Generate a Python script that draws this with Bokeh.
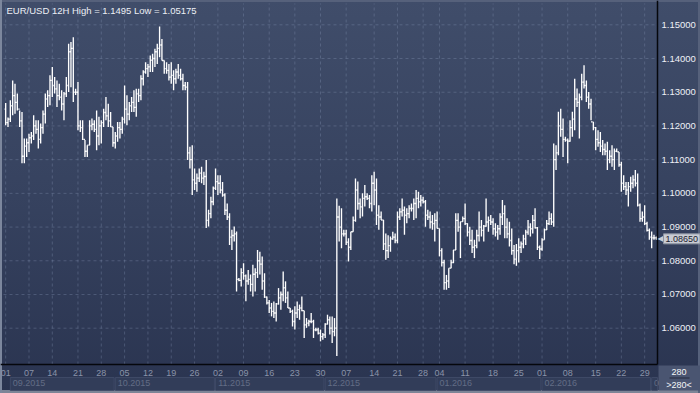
from bokeh.plotting import figure
from bokeh.models import (Range1d, FixedTicker, LinearAxis, PrintfTickFormatter,
                          Label, BoxAnnotation, ColumnDataSource)
from bokeh.embed import file_html
from bokeh.resources import INLINE

title_text = "EUR/USD 12H High = 1.1495 Low = 1.05175"
last_price = 1.0865
last_price_text = "1.08650"
bar_count_text = "280"
bar_count_sub = ">280<"

highs = [
    1.1268, 1.1225, 1.1276, 1.1335, 1.1325, 1.1296, 1.1246, 1.1241, 1.1163, 1.1163,
    1.1177, 1.1182, 1.1232, 1.1217, 1.1217, 1.1207, 1.1246, 1.1296, 1.1306, 1.1350,
    1.1375, 1.1345, 1.1335, 1.1325, 1.1306, 1.1301, 1.1345, 1.1444, 1.1449, 1.1463,
    1.1310, 1.1330, 1.1217, 1.1217, 1.1158, 1.1143, 1.1217, 1.1222, 1.1217, 1.1246,
    1.1227, 1.1217, 1.1251, 1.1286, 1.1266, 1.1241, 1.1197, 1.1182, 1.1212, 1.1212,
    1.1227, 1.1320, 1.1291, 1.1271, 1.1286, 1.1306, 1.1310, 1.1310, 1.1350, 1.1365,
    1.1389, 1.1384, 1.1409, 1.1414, 1.1429, 1.1444, 1.1495, 1.1458, 1.1394, 1.1389,
    1.1384, 1.1389, 1.1365, 1.1370, 1.1384, 1.1370, 1.1355, 1.1330, 1.1330, 1.1138,
    1.1143, 1.1074, 1.1059, 1.1074, 1.1079, 1.1064, 1.1099, 1.0951, 1.0990, 1.1020,
    1.1074, 1.1054, 1.1054, 1.1034, 1.1000, 1.0970, 1.0941, 1.0892, 1.0902, 1.0887,
    1.0749, 1.0778, 1.0793, 1.0759, 1.0773, 1.0759, 1.0788, 1.0778, 1.0832, 1.0827,
    1.0813, 1.0763, 1.0694, 1.0684, 1.0675, 1.0679, 1.0675, 1.0719, 1.0709, 1.0768,
    1.0739, 1.0709, 1.0660, 1.0655, 1.0665, 1.0679, 1.0670, 1.0694, 1.0652, 1.0630,
    1.0625, 1.0645, 1.0625, 1.0601, 1.0601, 1.0596, 1.0586, 1.0615, 1.0640, 1.0635,
    1.0635, 1.0630, 1.0985, 1.0963, 1.0956, 1.0892, 1.0892, 1.0867, 1.0886, 1.0931,
    1.1044, 1.1035, 1.0985, 1.1000, 1.1025, 1.1000, 1.0995, 1.1054, 1.1064, 1.1044,
    1.0965, 1.0946, 1.0921, 1.0881, 1.0876, 1.0872, 1.0886, 1.0881, 1.0946, 1.0956,
    1.0985, 1.0961, 1.0956, 1.0965, 1.0970, 1.0985, 1.1010, 1.1005, 1.0995, 1.0990,
    1.0980, 1.0951, 1.0946, 1.0936, 1.0941, 1.0946, 1.0896, 1.0837, 1.0803, 1.0758,
    1.0778, 1.0803, 1.0832, 1.0941, 1.0941, 1.0916, 1.0931, 1.0970, 1.0911, 1.0901,
    1.0892, 1.0862, 1.0892, 1.0946, 1.0921, 1.0906, 1.0985, 1.0931, 1.0936, 1.0926,
    1.0911, 1.0906, 1.0941, 1.0980, 1.0965, 1.0926, 1.0916, 1.0896, 1.0847, 1.0850,
    1.0867, 1.0857, 1.0877, 1.0892, 1.0921, 1.0911, 1.0936, 1.0956, 1.0900, 1.0845,
    1.0867, 1.0896, 1.0921, 1.0946, 1.0941, 1.1148, 1.1143, 1.1242, 1.1251, 1.1222,
    1.1168, 1.1163, 1.1217, 1.1242, 1.1340, 1.1311, 1.1296, 1.1355, 1.1380, 1.1335,
    1.1301, 1.1281, 1.1212, 1.1197, 1.1187, 1.1182, 1.1158, 1.1148, 1.1153, 1.1128,
    1.1143, 1.1133, 1.1133, 1.1123, 1.1094, 1.1054, 1.1034, 1.1034, 1.1049, 1.1054,
    1.1069, 1.1059, 1.0970, 1.0946, 1.0965, 1.0916, 1.0896, 1.0887, 1.0877, 1.0872,
]

lows = [
    1.1202, 1.1197, 1.1212, 1.1232, 1.1236, 1.1246, 1.1197, 1.1089, 1.1089, 1.1108,
    1.1123, 1.1148, 1.1158, 1.1177, 1.1133, 1.1148, 1.1177, 1.1207, 1.1256, 1.1261,
    1.1286, 1.1296, 1.1256, 1.1276, 1.1246, 1.1217, 1.1286, 1.1301, 1.1315, 1.1271,
    1.1292, 1.1187, 1.1182, 1.1158, 1.1108, 1.1108, 1.1143, 1.1187, 1.1182, 1.1128,
    1.1143, 1.1148, 1.1197, 1.1217, 1.1197, 1.1197, 1.1138, 1.1133, 1.1153, 1.1163,
    1.1177, 1.1207, 1.1202, 1.1217, 1.1241, 1.1241, 1.1227, 1.1271, 1.1276, 1.1320,
    1.1355, 1.1345, 1.1360, 1.1360, 1.1375, 1.1384, 1.1404, 1.1394, 1.1355, 1.1355,
    1.1335, 1.1325, 1.1306, 1.1325, 1.1340, 1.1335, 1.1306, 1.1306, 1.1099, 1.1074,
    1.0995, 1.1010, 1.1005, 1.1034, 1.1030, 1.1025, 1.0897, 1.0902, 1.0926, 1.0965,
    1.1010, 1.0995, 1.1000, 1.0990, 1.0936, 1.0921, 1.0847, 1.0832, 1.0857, 1.0709,
    1.0739, 1.0724, 1.0744, 1.0680, 1.0729, 1.0709, 1.0694, 1.0709, 1.0749, 1.0759,
    1.0714, 1.0690, 1.0670, 1.0645, 1.0635, 1.0630, 1.0620, 1.0670, 1.0655, 1.0680,
    1.0675, 1.0660, 1.0645, 1.0605, 1.0596, 1.0630, 1.0625, 1.0650, 1.0571, 1.0601,
    1.0606, 1.0615, 1.0571, 1.0591, 1.0581, 1.0561, 1.0566, 1.0571, 1.0611, 1.0581,
    1.0556, 1.0576, 1.05175, 1.0857, 1.0837, 1.0872, 1.0847, 1.0798, 1.0832, 1.0886,
    1.0916, 1.0951, 1.0926, 1.0931, 1.0961, 1.0980, 1.0956, 1.0946, 1.0965, 1.0906,
    1.0892, 1.0921, 1.0832, 1.0803, 1.0808, 1.0827, 1.0862, 1.0852, 1.0852, 1.0921,
    1.0931, 1.0877, 1.0911, 1.0926, 1.0946, 1.0921, 1.0926, 1.0956, 1.0961, 1.0970,
    1.0901, 1.0921, 1.0896, 1.0892, 1.0857, 1.0896, 1.0813, 1.0783, 1.0714, 1.0714,
    1.0719, 1.0778, 1.0793, 1.0832, 1.0886, 1.0808, 1.0916, 1.0906, 1.0872, 1.0847,
    1.0823, 1.0808, 1.0837, 1.0857, 1.0872, 1.0857, 1.0901, 1.0886, 1.0906, 1.0877,
    1.0872, 1.0862, 1.0877, 1.0906, 1.0867, 1.0867, 1.0842, 1.0818, 1.0790, 1.0785,
    1.0795, 1.0823, 1.0837, 1.0847, 1.0877, 1.0872, 1.0881, 1.0896, 1.0832, 1.0805,
    1.0830, 1.0862, 1.0891, 1.0906, 1.0906, 1.0901, 1.1069, 1.1113, 1.1168, 1.1108,
    1.1153, 1.1089, 1.1153, 1.1168, 1.1187, 1.1256, 1.1163, 1.1276, 1.1311, 1.1271,
    1.1251, 1.1217, 1.1187, 1.1128, 1.1138, 1.1123, 1.1113, 1.1113, 1.1069, 1.1089,
    1.1079, 1.1069, 1.1123, 1.1079, 1.1005, 1.1010, 1.0995, 1.0961, 1.1005, 1.1015,
    1.1020, 1.0961, 1.0916, 1.0916, 1.0906, 1.0887, 1.0862, 1.0837, 1.0862, 1.0862,
]

opens = [
    1.1250, 1.1210, 1.1220, 1.1260, 1.1290, 1.1270, 1.1250, 1.1215, 1.1110, 1.1140,
    1.1150, 1.1165, 1.1170, 1.1200, 1.1190, 1.1160, 1.1195, 1.1235, 1.1280, 1.1290,
    1.1335, 1.1320, 1.1310, 1.1290, 1.1285, 1.1265, 1.1295, 1.1320, 1.1420, 1.1430,
    1.1300, 1.1300, 1.1200, 1.1195, 1.1160, 1.1125, 1.1143, 1.1200, 1.1205, 1.1190,
    1.1170, 1.1200, 1.1210, 1.1240, 1.1230, 1.1215, 1.1197, 1.1150, 1.1170, 1.1195,
    1.1190, 1.1220, 1.1250, 1.1235, 1.1260, 1.1270, 1.1255, 1.1295, 1.1290, 1.1340,
    1.1360, 1.1370, 1.1375, 1.1395, 1.1400, 1.1420, 1.1430, 1.1440, 1.1394, 1.1370,
    1.1365, 1.1345, 1.1350, 1.1340, 1.1360, 1.1350, 1.1340, 1.1320, 1.1315, 1.1120,
    1.1100, 1.1040, 1.1030, 1.1045, 1.1060, 1.1045, 1.1050, 1.0920, 1.0940, 1.0975,
    1.1015, 1.1035, 1.1030, 1.1010, 1.0995, 1.0950, 1.0930, 1.0870, 1.0875, 1.0880,
    1.0745, 1.0742, 1.0765, 1.0755, 1.0740, 1.0745, 1.0730, 1.0760, 1.0765, 1.0800,
    1.0790, 1.0740, 1.0692, 1.0675, 1.0660, 1.0650, 1.0645, 1.0672, 1.0690, 1.0700,
    1.0720, 1.0690, 1.0660, 1.0650, 1.0620, 1.0645, 1.0655, 1.0660, 1.0652, 1.0610,
    1.0615, 1.0620, 1.0620, 1.0595, 1.0595, 1.0585, 1.0575, 1.0580, 1.0612, 1.0625,
    1.0600, 1.0590, 1.0600, 1.0930, 1.0900, 1.0880, 1.0880, 1.0855, 1.0840, 1.0886,
    1.0920, 1.1010, 1.0970, 1.0960, 1.0985, 1.0990, 1.0985, 1.0970, 1.1030, 1.1010,
    1.0935, 1.0930, 1.0921, 1.0850, 1.0830, 1.0845, 1.0865, 1.0870, 1.0860, 1.0930,
    1.0945, 1.0950, 1.0935, 1.0940, 1.0955, 1.0955, 1.0970, 1.0985, 1.0975, 1.0980,
    1.0975, 1.0935, 1.0930, 1.0915, 1.0910, 1.0920, 1.0896, 1.0830, 1.0795, 1.0735,
    1.0740, 1.0778, 1.0795, 1.0832, 1.0920, 1.0900, 1.0916, 1.0925, 1.0910, 1.0885,
    1.0860, 1.0840, 1.0845, 1.0875, 1.0900, 1.0890, 1.0903, 1.0915, 1.0920, 1.0915,
    1.0895, 1.0885, 1.0895, 1.0930, 1.0940, 1.0900, 1.0880, 1.0860, 1.0830, 1.0805,
    1.0830, 1.0840, 1.0850, 1.0865, 1.0885, 1.0900, 1.0895, 1.0920, 1.0898, 1.0840,
    1.0835, 1.0862, 1.0892, 1.0910, 1.0925, 1.0915, 1.1100, 1.1120, 1.1200, 1.1190,
    1.1160, 1.1158, 1.1155, 1.1195, 1.1220, 1.1280, 1.1270, 1.1285, 1.1330, 1.1320,
    1.1285, 1.1265, 1.1212, 1.1195, 1.1160, 1.1150, 1.1140, 1.1130, 1.1125, 1.1100,
    1.1110, 1.1100, 1.1125, 1.1123, 1.1085, 1.1030, 1.1020, 1.1010, 1.1020, 1.1030,
    1.1040, 1.1030, 1.0965, 1.0925, 1.0930, 1.0910, 1.0890, 1.0870, 1.0868, 1.0868,
]

closes = [
    1.1210, 1.1220, 1.1260, 1.1290, 1.1270, 1.1250, 1.1215, 1.1110, 1.1140, 1.1150,
    1.1165, 1.1170, 1.1200, 1.1190, 1.1160, 1.1195, 1.1235, 1.1280, 1.1290, 1.1335,
    1.1320, 1.1310, 1.1290, 1.1285, 1.1265, 1.1295, 1.1320, 1.1420, 1.1430, 1.1300,
    1.1300, 1.1200, 1.1195, 1.1160, 1.1125, 1.1143, 1.1200, 1.1205, 1.1190, 1.1170,
    1.1200, 1.1210, 1.1240, 1.1230, 1.1215, 1.1197, 1.1150, 1.1170, 1.1195, 1.1190,
    1.1220, 1.1250, 1.1235, 1.1260, 1.1270, 1.1255, 1.1295, 1.1290, 1.1340, 1.1360,
    1.1370, 1.1375, 1.1395, 1.1400, 1.1420, 1.1430, 1.1440, 1.1394, 1.1370, 1.1365,
    1.1345, 1.1350, 1.1340, 1.1360, 1.1350, 1.1340, 1.1320, 1.1315, 1.1120, 1.1100,
    1.1040, 1.1030, 1.1045, 1.1060, 1.1045, 1.1050, 1.0920, 1.0940, 1.0975, 1.1015,
    1.1035, 1.1030, 1.1010, 1.0995, 1.0950, 1.0930, 1.0870, 1.0875, 1.0880, 1.0745,
    1.0742, 1.0765, 1.0755, 1.0740, 1.0745, 1.0730, 1.0760, 1.0765, 1.0800, 1.0790,
    1.0740, 1.0692, 1.0675, 1.0660, 1.0650, 1.0645, 1.0672, 1.0690, 1.0700, 1.0720,
    1.0690, 1.0660, 1.0650, 1.0620, 1.0645, 1.0655, 1.0660, 1.0652, 1.0610, 1.0615,
    1.0620, 1.0620, 1.0595, 1.0595, 1.0585, 1.0575, 1.0580, 1.0612, 1.0625, 1.0600,
    1.0590, 1.0600, 1.0930, 1.0900, 1.0880, 1.0880, 1.0855, 1.0840, 1.0886, 1.0920,
    1.1010, 1.0970, 1.0960, 1.0985, 1.0990, 1.0985, 1.0970, 1.1030, 1.1010, 1.0935,
    1.0930, 1.0921, 1.0850, 1.0830, 1.0845, 1.0865, 1.0870, 1.0860, 1.0930, 1.0945,
    1.0950, 1.0935, 1.0940, 1.0955, 1.0955, 1.0970, 1.0985, 1.0975, 1.0980, 1.0975,
    1.0935, 1.0930, 1.0915, 1.0910, 1.0920, 1.0896, 1.0830, 1.0795, 1.0735, 1.0740,
    1.0778, 1.0795, 1.0832, 1.0920, 1.0900, 1.0916, 1.0925, 1.0910, 1.0885, 1.0860,
    1.0840, 1.0845, 1.0875, 1.0900, 1.0890, 1.0903, 1.0915, 1.0920, 1.0915, 1.0895,
    1.0885, 1.0895, 1.0930, 1.0940, 1.0900, 1.0880, 1.0860, 1.0830, 1.0805, 1.0830,
    1.0840, 1.0850, 1.0865, 1.0885, 1.0900, 1.0895, 1.0920, 1.0898, 1.0840, 1.0835,
    1.0862, 1.0892, 1.0910, 1.0925, 1.0915, 1.1100, 1.1120, 1.1200, 1.1190, 1.1160,
    1.1158, 1.1155, 1.1195, 1.1220, 1.1280, 1.1270, 1.1285, 1.1330, 1.1320, 1.1285,
    1.1265, 1.1212, 1.1195, 1.1160, 1.1150, 1.1140, 1.1130, 1.1125, 1.1100, 1.1110,
    1.1100, 1.1125, 1.1123, 1.1085, 1.1030, 1.1020, 1.1010, 1.1020, 1.1030, 1.1040,
    1.1030, 1.0965, 1.0925, 1.0930, 1.0910, 1.0890, 1.0870, 1.0868, 1.0868, 1.0865,
]

# x-axis: bar index of each weekly label, and the label texts
day_tick_pos = [0, 10, 20, 31, 41, 51, 61, 71, 81, 91, 102, 113, 124, 135,
                146, 158, 168, 179, 186, 197, 209, 220, 230, 241, 253, 264, 274]
day_tick_labels = ["01", "07", "14", "21", "28", "05", "12", "19", "26", "02",
                   "09", "16", "23", "30", "07", "14", "21", "28", "04", "11",
                   "18", "25", "01", "08", "15", "22", "29"]
month_starts = [2, 47, 90, 137, 185, 230, 277]
month_labels = ["09.2015", "10.2015", "11.2015", "12.2015", "01.2016", "02.2016", "03.2016"]
price_ticks = [1.06, 1.07, 1.08, 1.09, 1.10, 1.11, 1.12, 1.13, 1.14, 1.15]

# ---------------------------------------------------------------- layout
W, H = 700, 393
PX_L, PX_R, PX_T, PX_B = 3, 657, 3, 364          # chart area inside the canvas (px)
X0, X1 = -0.93, 279.5                              # visible bar span of chart area
Y0, Y1 = 1.04923, 1.15632                          # visible price span of chart area
sx = (PX_R - PX_L) / (X1 - X0)
sy = (PX_B - PX_T) / (Y1 - Y0)
XL, XR = X0 - PX_L / sx, X1 + (W - PX_R) / sx
YT, YB = Y1 + PX_T / sy, Y0 - (H - PX_B) / sy
FONT = "Liberation Sans"

p = figure(width=W, height=H, x_range=Range1d(XL, XR), y_range=Range1d(YB, YT),
           y_axis_location="right", output_backend="svg", toolbar_location=None,
           min_border=0)
p.min_border_left = p.min_border_right = p.min_border_top = p.min_border_bottom = 0
p.background_fill_alpha = 0
p.border_fill_alpha = 0
p.outline_line_color = None
p.grid.visible = False
p.styles = {"background": "linear-gradient(180deg, #404d6a 0%, #36425f 50%, #2a3450 100%)",
            "box-shadow": "inset 2px 0 0 0 #7c879d, inset 0 2px 0 0 #56617b, "
                          "inset -2px 0 0 0 #56617b, inset 0 -3px 0 0 #7d8597"}

# dashed grid lines at the axis ticks (limited to the chart area)
GRID = dict(line_color="#8b9abb", line_alpha=0.32, line_dash="3 3", line_width=1)
p.segment(x0=[X0] * len(price_ticks), x1=[X1] * len(price_ticks),
          y0=price_ticks, y1=price_ticks, **GRID)
p.segment(x0=day_tick_pos, x1=day_tick_pos,
          y0=[Y0] * len(day_tick_pos), y1=[Y1] * len(day_tick_pos), **GRID)

# month boxes in bottom row
for k, m in enumerate(month_starts):
    right = month_starts[k + 1] - 0.5 if k + 1 < len(month_starts) else X1
    p.add_layout(BoxAnnotation(left=m, right=right, top=Y0 - 13 / sy, bottom=Y0 - 26 / sy,
                               fill_color="#3a4561", fill_alpha=0.5,
                               line_color="#404b68", line_alpha=0.9, line_width=1))

# corner box with bar count
p.add_layout(BoxAnnotation(left=X1 + 1 / sx, right=XR, top=Y0 - 1 / sy, bottom=YB + 3 / sy,
                           fill_color="#4a5571", fill_alpha=1, line_color=None))
p.add_layout(BoxAnnotation(left=X1 + 12 / sx, right=X1 + 32 / sx, top=Y0 - 13 / sy,
                           bottom=Y0 - 14 / sy, fill_color="#242b3e", fill_alpha=1,
                           line_color=None))

# right price axis, fixed at the chart edge
ya = p.yaxis[0]
ya.fixed_location = X1
ya.bounds = (Y0, YT)
ya.ticker = FixedTicker(ticks=price_ticks)
ya.formatter = PrintfTickFormatter(format="%.5f")
ya.major_tick_line_color = None
ya.minor_tick_line_color = None
ya.major_tick_out = ya.minor_tick_out = ya.major_tick_in = ya.minor_tick_in = 0
ya.axis_line_color = "#05070c"
ya.axis_line_width = 1.5
ya.major_label_standoff = 4
ya.major_label_text_font = FONT
ya.major_label_text_font_size = "9.5px"
ya.major_label_text_color = "#eef0f6"

# bottom day axis, fixed at the chart bottom
xa = p.xaxis[0]
xa.fixed_location = Y0
xa.bounds = (XL, X1)
xa.ticker = FixedTicker(ticks=day_tick_pos)
xa.major_label_overrides = dict(zip(day_tick_pos, day_tick_labels))
xa.major_tick_line_color = None
xa.minor_tick_line_color = None
xa.major_tick_out = xa.minor_tick_out = xa.major_tick_in = xa.minor_tick_in = 0
xa.axis_line_color = "#05070c"
xa.axis_line_width = 1.5
xa.major_label_standoff = 5
xa.major_label_text_font = FONT
xa.major_label_text_font_size = "9px"
xa.major_label_text_color = "#8a93a8"

# month axis below it
month_label_pos = [m + 8 for m in month_starts]
ma = LinearAxis(ticker=FixedTicker(ticks=month_label_pos),
                major_label_overrides=dict(zip(month_label_pos, month_labels)),
                fixed_location=Y0)
ma.axis_line_color = None
ma.major_tick_line_color = None
ma.minor_tick_line_color = None
ma.major_tick_out = ma.minor_tick_out = ma.major_tick_in = ma.minor_tick_in = 0
ma.major_label_standoff = 15
ma.major_label_text_font = FONT
ma.major_label_text_font_size = "9px"
ma.major_label_text_color = "#8a93a8"
p.add_layout(ma, "below")

# OHLC bars
idx = list(range(len(highs)))
src = ColumnDataSource(dict(x=idx, h=highs, l=lows, o=opens, c=closes,
                            xl=[i - 0.45 for i in idx], xr=[i + 0.45 for i in idx]))
BAR = "#ffffff"
p.segment(x0="x", y0="l", x1="x", y1="h", source=src, line_color=BAR, line_width=1.35)
p.segment(x0="xl", y0="o", x1="x", y1="o", source=src, line_color=BAR, line_width=1.35)
p.segment(x0="x", y0="c", x1="xr", y1="c", source=src, line_color=BAR, line_width=1.35)

# title
p.add_layout(Label(x=X0, y=Y1, x_offset=3, y_offset=-1, text=title_text,
                   text_baseline="top", text_font=FONT, text_font_size="9.5px",
                   text_color="#eceff5"))

# last price marker
p.add_layout(Label(x=X1, y=last_price, x_offset=0, text="\u25C0",
                   text_baseline="middle", text_font="DejaVu Sans", text_font_size="8px",
                   text_color="#c9ccd3"))
p.add_layout(Label(x=X1, y=last_price, x_offset=6, text=last_price_text,
                   text_baseline="middle", text_font=FONT, text_font_size="9px",
                   text_color="#1b2131", background_fill_color="#c9ccd3",
                   border_line_color="#8c92a0", padding=2))

# bar count texts
xc = (X1 + XR) / 2
p.add_layout(Label(x=xc, y=Y0, y_offset=-7, text=bar_count_text, text_align="center",
                   text_baseline="middle", text_font=FONT, text_font_size="9px",
                   text_color="#f4f5f8"))
p.add_layout(Label(x=xc, y=Y0, y_offset=-20, text=bar_count_sub, text_align="center",
                   text_baseline="middle", text_font=FONT, text_font_size="9px",
                   text_color="#f4f5f8"))

open("out.html", "w").write(file_html(p, INLINE))
